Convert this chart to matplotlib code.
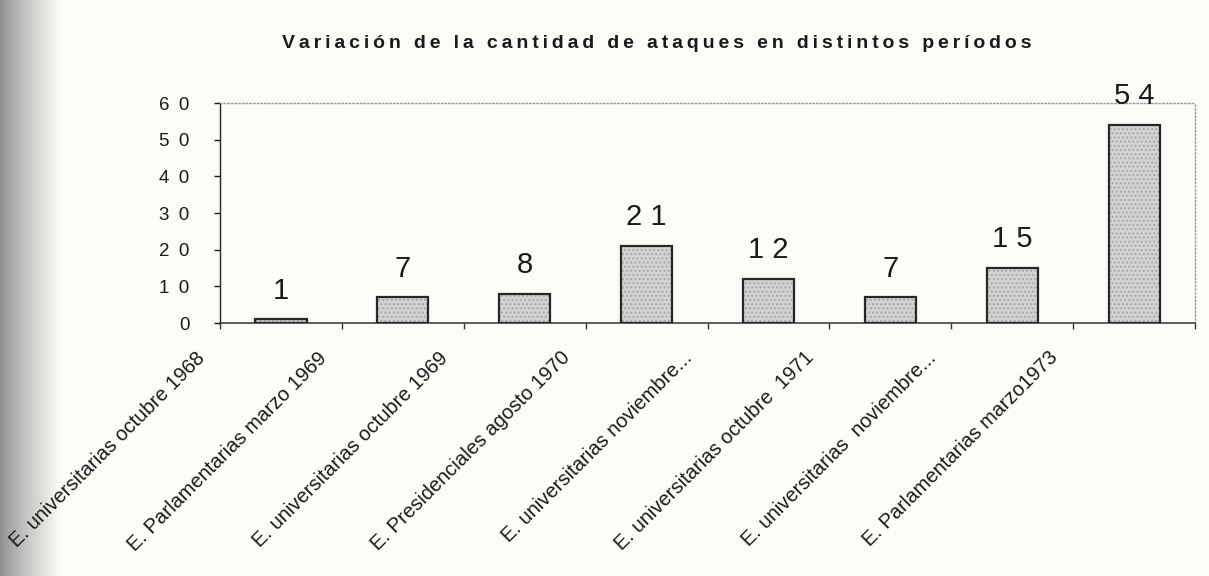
import numpy as np
import matplotlib.pyplot as plt
from matplotlib.transforms import ScaledTranslation

# Datos del grafico
periodos = ['E. universitarias octubre 1968',
            'E. Parlamentarias marzo 1969',
            'E. universitarias octubre 1969',
            'E. Presidenciales agosto 1970',
            'E. universitarias noviembre...',
            'E. universitarias octubre  1971',
            'E. universitarias  noviembre...',
            'E. Parlamentarias marzo1973']
ataques = [1, 7, 8, 21, 12, 7, 15, 54]
yticks = [0, 10, 20, 30, 40, 50, 60]
titulo = 'Variación de la cantidad de ataques en distintos períodos'

FONT = ['Liberation Sans', 'DejaVu Sans']
BG = '#fbfbf8'


def espaciado(texto, sep='\u2009'):
    # Simula el espaciado entre letras del original
    return sep.join(texto)


def main():
    plt.rcParams['font.family'] = FONT
    fig = plt.figure(figsize=(12.09, 5.76), dpi=100, facecolor=BG)

    # Sombra del escaneo en el borde izquierdo
    axShade = fig.add_axes([0, 0, 0.05, 1], zorder=-1)
    grad = np.linspace(0, 1, 200) ** 0.8
    img = np.zeros((1, 200, 3))
    c0 = np.array([0.55, 0.56, 0.55])
    c1 = np.array([0.984, 0.984, 0.972])
    for k in range(3):
        img[0, :, k] = c0[k] + (c1[k] - c0[k]) * grad
    axShade.imshow(img, aspect='auto', extent=(0, 1, 0, 1))
    axShade.axis('off')

    ax = fig.add_axes([0.182, 0.439, 0.8065, 0.382], zorder=1)
    ax.set_facecolor(BG)

    x = np.arange(len(ataques))

    # Barras: relleno con trama y borde negro
    ax.bar(x, ataques, width=0.42, color='#d3d3d3', edgecolor='#a9a9a9',
           hatch='....', linewidth=0, zorder=2)
    ax.bar(x, ataques, width=0.42, fill=False, edgecolor='#262626',
           linewidth=1.6, zorder=3)

    for xi, v in zip(x, ataques):
        ax.annotate(' '.join(str(v)), (xi, v), xytext=(0, 15),
                    textcoords='offset points', ha='center', va='baseline',
                    fontsize=21, color='#1a1a1a')

    ax.set_xlim(-0.5, len(ataques) - 0.5)
    ax.set_ylim(0, 60)

    # Eje Y
    ax.set_yticks(yticks)
    ax.set_yticklabels(['\u2002'.join(str(t)) for t in yticks])
    ax.tick_params(axis='y', direction='out', length=4, width=1,
                   pad=18, labelsize=13.5, colors='#1a1a1a')

    # Eje X: marcas entre categorias, etiquetas en el centro
    ax.set_xticks(np.arange(len(ataques) + 1) - 0.5)
    ax.set_xticklabels([])
    ax.tick_params(axis='x', which='major', direction='out', length=4,
                   width=1, colors='#333333')
    ax.set_xticks(x, minor=True)
    ax.set_xticklabels(periodos, minor=True, rotation=45, ha='right',
                       va='top', rotation_mode='anchor', fontsize=14.5,
                       color='#1a1a1a')
    ax.tick_params(axis='x', which='minor', length=0, pad=18)
    offset = ScaledTranslation(-0.86, 0, fig.dpi_scale_trans)
    for label in ax.xaxis.get_minorticklabels():
        label.set_transform(label.get_transform() + offset)

    # Marco del area de trazado
    for side in ('top', 'right'):
        ax.spines[side].set_color('#9a9a9a')
        ax.spines[side].set_linestyle(':')
        ax.spines[side].set_linewidth(1)
    ax.spines['left'].set_color('#222222')
    ax.spines['bottom'].set_color('#333333')
    ax.spines['left'].set_linewidth(1)
    ax.spines['bottom'].set_linewidth(1.1)

    # Titulo con letras espaciadas
    fig.text(1032 / 1209, 1 - 48 / 576, espaciado(titulo), fontsize=14,
             fontweight='bold', color='#1a1a1a', ha='right', va='baseline')

    fig.savefig('out.png', dpi=100, facecolor=BG)


if __name__ == "__main__":
    main()
